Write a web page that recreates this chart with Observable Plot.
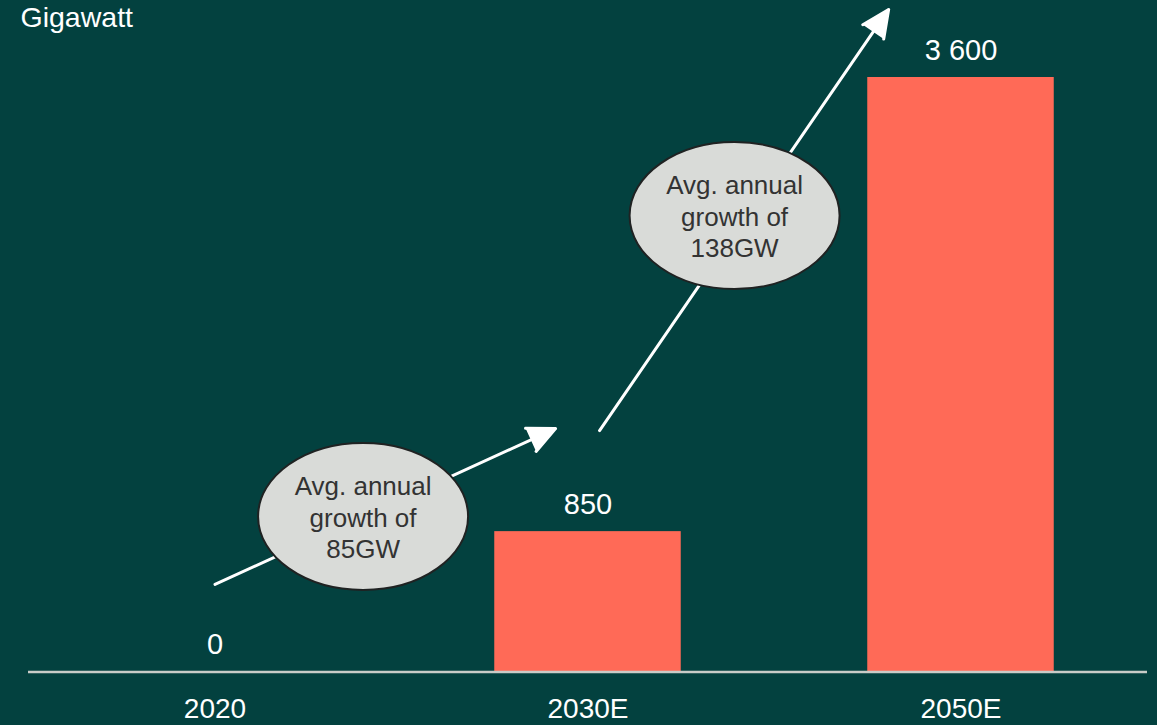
<!DOCTYPE html>
<html>
<head>
<meta charset="utf-8">
<script src="https://cdn.jsdelivr.net/npm/d3@7"></script>
<script src="https://cdn.jsdelivr.net/npm/@observablehq/plot@0.6"></script>
<style>
  html, body { margin: 0; padding: 0; background: #03413f; }
  #chart { width: 1157px; height: 725px; overflow: hidden; }
  #chart svg { display: block; }
</style>
</head>
<body>
<div id="chart"></div>
<script>
// Installed capacity, gigawatt
const categories = ["2020", "2030E", "2050E"];
const capacity = [0, 850, 3600];
const valueLabels = ["0", "850", "3 600"];
const unitLabel = "Gigawatt";

// Growth arrows, in category-index units (x) and gigawatt (y)
const arrowX1 = [0.0, 1.031];
const arrowY1 = [530, 1462];
const arrowX2 = [0.913, 1.806];
const arrowY2 = [1474, 4012];

// Growth callouts
const noteX = [0.397, 1.393];
const noteY = [942, 2764];
const noteText = ["Avg. annual\ngrowth of\n85GW", "Avg. annual\ngrowth of\n138GW"];

const bars = categories.map((c, i) => ({i, category: c, value: capacity[i], label: valueLabels[i]}));
const arrows = arrowX1.map((x, i) => ({x1: x, y1: arrowY1[i], x2: arrowX2[i], y2: arrowY2[i]}));
const notes = noteX.map((x, i) => ({x, y: noteY[i], text: noteText[i]}));

// Ellipse drawn as a custom symbol (flattened circle)
const ellipse = {
  draw(context, size) {
    const rx = Math.sqrt(size / Math.PI);
    const ry = rx * 0.7;
    const k = 0.5523;
    context.moveTo(rx, 0);
    context.bezierCurveTo(rx, k * ry, k * rx, ry, 0, ry);
    context.bezierCurveTo(-k * rx, ry, -rx, k * ry, -rx, 0);
    context.bezierCurveTo(-rx, -k * ry, -k * rx, -ry, 0, -ry);
    context.bezierCurveTo(k * rx, -ry, rx, -k * ry, rx, 0);
    context.closePath();
  }
};

const font = "Arial, 'Liberation Sans', Helvetica, sans-serif";

const chart = Plot.plot({
  width: 1157,
  height: 725,
  marginLeft: 28,
  marginRight: 10,
  marginTop: 77,
  marginBottom: 53.5,
  style: {background: "#03413f", color: "#ffffff", fontFamily: font, overflow: "visible"},
  x: {type: "linear", domain: [-0.5, 2.5], axis: null},
  y: {domain: [0, 3600], axis: null},
  marks: [
    Plot.rectY(bars, {x1: d => d.i - 0.25, x2: d => d.i + 0.25, y: "value", fill: "#ff6a57"}),
    Plot.ruleY([0], {stroke: "#c9ccc8", strokeWidth: 2.5}),
    Plot.axisX({ticks: [0, 1, 2], tickFormat: i => categories[i], tickSize: 0, tickPadding: 26,
      fontSize: 28, fill: "#ffffff", textStroke: "none"}),
    Plot.text(bars, {x: "i", y: "value", text: "label", dy: -18, lineAnchor: "bottom",
      fontSize: 29, fill: "#ffffff"}),
    Plot.arrow(arrows, {x1: "x1", y1: "y1", x2: "x2", y2: "y2", stroke: "#ffffff", fill: "#ffffff",
      strokeWidth: 3, headLength: 15, headAngle: 50}),
    Plot.dot(notes, {x: "x", y: "y", r: 105, symbol: ellipse, fill: "#d9dbd8", stroke: "#1f2222",
      strokeWidth: 2, fillOpacity: 1}),
    Plot.text(notes, {x: "x", y: "y", text: "text", dy: 0, fontSize: 26, lineHeight: 1.22,
      fill: "#333333"}),
    Plot.text([unitLabel], {frameAnchor: "top-left", dx: -8, dy: -51, lineAnchor: "bottom",
      textAnchor: "start", fontSize: 28.5, fill: "#ffffff"})
  ]
});

document.getElementById("chart").appendChild(chart);
</script>
</body>
</html>
